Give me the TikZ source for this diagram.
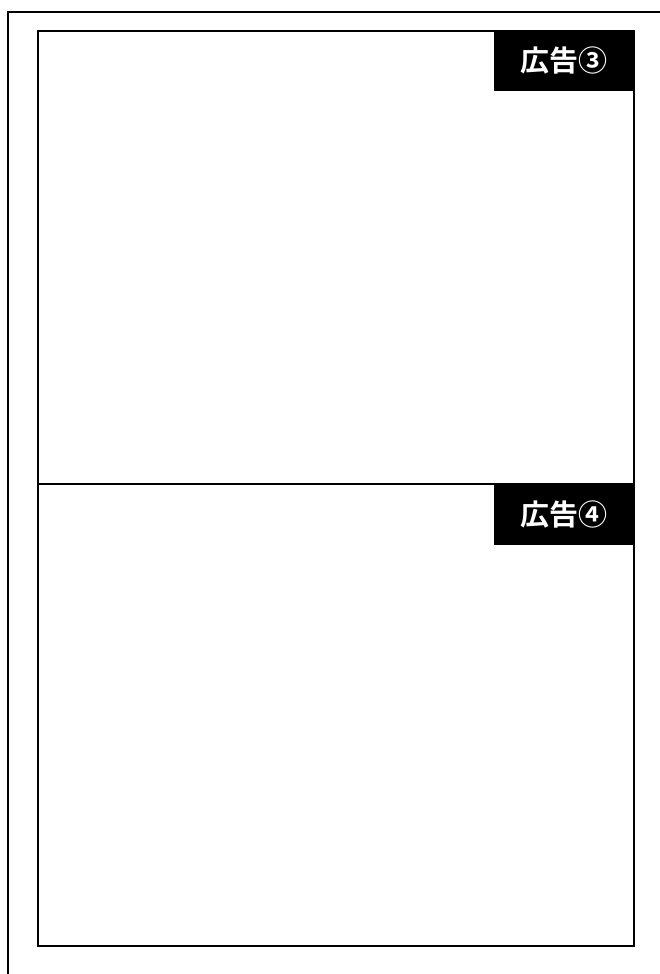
\documentclass[tikz,border=0pt]{standalone}
\usepackage{fontspec}
\newfontfamily\cjk{Noto Sans CJK JP Bold}
\begin{document}
\begin{tikzpicture}[x=1pt,y=-1pt,
  frame/.style={draw=black,line width=2pt},
  tag/.style={fill=black,text=white,font=\cjk\fontsize{29}{29}\selectfont,inner sep=0pt,minimum width=140pt,minimum height=61pt,anchor=north east}]
\useasboundingbox (0,0) rectangle (659,974);
\draw[frame] (8,990) -- (8,12) -- (670,12);
\draw[frame] (38,31) rectangle (634,946);
\draw[frame] (38,484) -- (634,484);
\node[tag] (ad3) at (634,30) {広告③};
\node[tag] (ad4) at (634,484) {広告④};
\end{tikzpicture}
\end{document}
